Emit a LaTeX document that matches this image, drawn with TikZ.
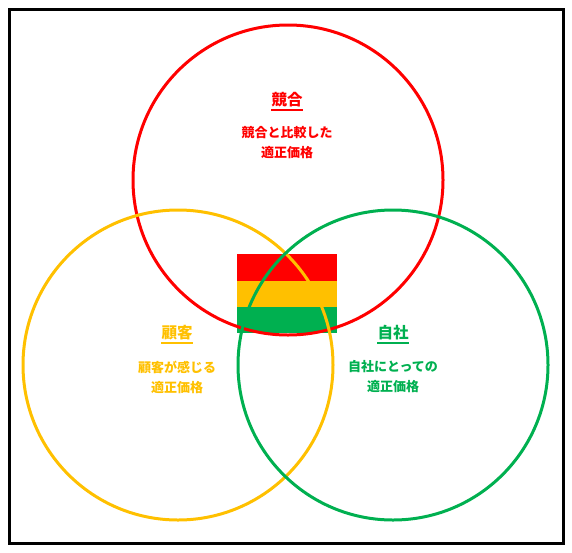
\documentclass[tikz,border=0pt]{standalone}
\usepackage{fontspec}
\newfontfamily\cjk{Noto Sans CJK JP}
\definecolor{cred}{HTML}{FF0000}
\definecolor{cyel}{HTML}{FFC000}
\definecolor{cgrn}{HTML}{00B050}
\begin{document}
\begin{tikzpicture}[x=1pt,y=-1pt,
  ring/.style={line width=3pt},
  ttl/.style={font=\cjk\bfseries\fontsize{15.5}{18}\selectfont, inner sep=0pt, anchor=center},
  sub/.style={font=\cjk\bfseries\fontsize{13}{20}\selectfont, inner sep=0pt, align=center, anchor=center},
  uline/.style={line width=1.4pt}]
\useasboundingbox (0,0) rectangle (572,552);
\draw[line width=3pt] (9,9) rectangle (563,543);
% flag
\fill[cred] (237,254) rectangle (337,281);
\fill[cyel] (237,281) rectangle (337,307);
\fill[cgrn] (237,307) rectangle (337,333);
% circles
\draw[ring, cred] (288,180) circle[radius=155];
\draw[ring, cyel] (178,365) circle[radius=155];
\draw[ring, cgrn] (393,365) circle[radius=155];
% texts
\node[ttl, text=cred] (t1) at (287,100) {競合};
\draw[uline, cred] ([yshift=-2.5pt]t1.south west) -- ([yshift=-2.5pt]t1.south east);
\node[sub, text=cred] (s1) at (287,143) {競合と比較した\\適正価格};
\node[ttl, text=cyel] (t2) at (177,333) {顧客};
\draw[uline, cyel] ([yshift=-2.5pt]t2.south west) -- ([yshift=-2.5pt]t2.south east);
\node[sub, text=cyel] (s2) at (177,377) {顧客が感じる\\適正価格};
\node[ttl, text=cgrn] (t3) at (393,333) {自社};
\draw[uline, cgrn] ([yshift=-2.5pt]t3.south west) -- ([yshift=-2.5pt]t3.south east);
\node[sub, text=cgrn] (s3) at (393,377) {自社にとっての\\適正価格};
\end{tikzpicture}
\end{document}
